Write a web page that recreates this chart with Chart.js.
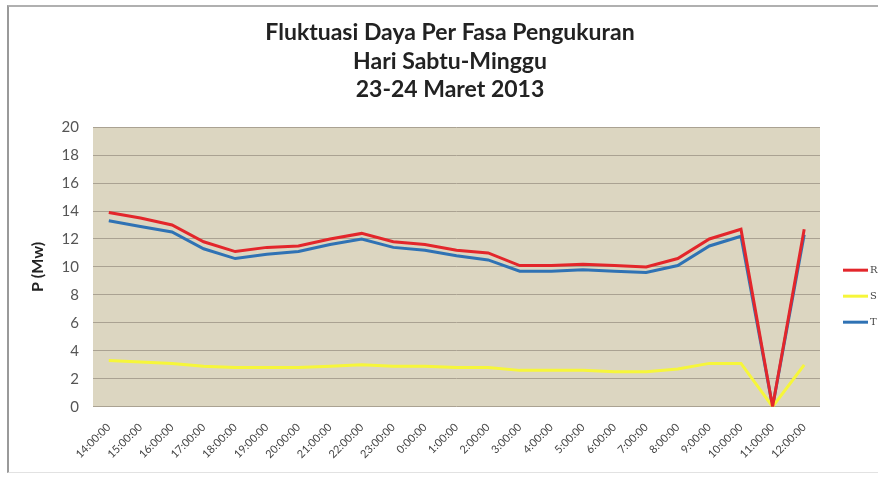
<!DOCTYPE html>
<html>
<head>
<meta charset="utf-8">
<script src="https://cdn.jsdelivr.net/npm/chart.js@4"></script>
<style>
  html, body { margin: 0; padding: 0; background: #ffffff; }
  #wrap {
    position: relative;
    width: 878px;
    height: 477px;
  }
  #frame {
    position: absolute;
    left: 7px;
    top: 5px;
    right: 0;
    bottom: 4px;
    border-left: 2px solid #9a9a9a;
    border-top: 2px solid #b0b0b0;
    border-bottom: 1px solid #e2e2e2;
  }
  canvas { position: absolute; left: 0; top: 0; }
</style>
</head>
<body>
<div id="wrap">
  <div id="frame"></div>
  <canvas id="myChart" width="878" height="477"></canvas>
</div>
<script>
// Data
let jam = [
  "14:00:00", "15:00:00", "16:00:00", "17:00:00", "18:00:00", "19:00:00",
  "20:00:00", "21:00:00", "22:00:00", "23:00:00", "0:00:00", "1:00:00",
  "2:00:00", "3:00:00", "4:00:00", "5:00:00", "6:00:00", "7:00:00",
  "8:00:00", "9:00:00", "10:00:00", "11:00:00", "12:00:00",
];
let fasaR = [13.9, 13.5, 13.0, 11.8, 11.1, 11.4, 11.5, 12.0, 12.4, 11.8, 11.6, 11.2,
  11.0, 10.1, 10.1, 10.2, 10.1, 10.0, 10.6, 12.0, 12.7, 0, 12.7];
let fasaS = [3.3, 3.2, 3.1, 2.9, 2.8, 2.8, 2.8, 2.9, 3.0, 2.9, 2.9, 2.8,
  2.8, 2.6, 2.6, 2.6, 2.5, 2.5, 2.7, 3.1, 3.1, 0, 3.0];
let fasaT = [13.3, 12.9, 12.5, 11.3, 10.6, 10.9, 11.1, 11.6, 12.0, 11.4, 11.2, 10.8,
  10.5, 9.7, 9.7, 9.8, 9.7, 9.6, 10.1, 11.5, 12.2, 0, 12.3];
let yTicks = [0, 2, 4, 6, 8, 10, 12, 14, 16, 18, 20];

// Plot background
const plotBackground = {
  id: "plotBackground",
  beforeDraw(chart) {
    const { ctx, chartArea } = chart;
    ctx.save();
    ctx.fillStyle = "#dcd6c1";
    ctx.fillRect(chartArea.left, chartArea.top, chartArea.width, chartArea.height);
    ctx.restore();
  },
};

// Legend drawn next to the plot, like the Excel one
const sideLegend = {
  id: "sideLegend",
  afterDraw(chart) {
    const { ctx, chartArea } = chart;
    ctx.save();
    ctx.font = "10px 'DejaVu Serif'";
    ctx.textBaseline = "middle";
    chart.data.datasets.forEach((ds, i) => {
      const x = chartArea.right + 23;
      const y = chartArea.top + 143 + i * 26;
      ctx.strokeStyle = ds.borderColor;
      ctx.lineWidth = 3;
      ctx.beginPath();
      ctx.moveTo(x, y);
      ctx.lineTo(x + 25, y);
      ctx.stroke();
      ctx.fillStyle = "#444444";
      ctx.fillText(ds.label, x + 27, y);
    });
    ctx.restore();
  },
};

function dataset(label, values, color) {
  return {
    label,
    data: values,
    borderColor: color,
    backgroundColor: color,
    borderWidth: 3,
    pointRadius: 0,
    tension: 0,
    fill: false,
  };
}

let myChart = new Chart(document.getElementById("myChart"), {
  type: "line",
  data: {
    labels: jam,
    datasets: [
      dataset("R", fasaR, "#e3262b"),
      dataset("S", fasaS, "#f6f63a"),
      dataset("T", fasaT, "#2f72b4"),
    ],
  },
  plugins: [plotBackground, sideLegend],
  options: {
    responsive: false,
    animation: false,
    layout: {
      padding: { left: 28, right: 6, top: 19, bottom: 10 },
    },
    plugins: {
      title: {
        display: true,
        text: ["Fluktuasi Daya Per Fasa Pengukuran", "Hari Sabtu-Minggu", "23-24 Maret 2013"],
        font: { family: "Lato", size: 23, weight: "bold", lineHeight: 1.22 },
        color: "#222222",
        padding: { top: 0, bottom: 24 },
      },
      legend: { display: false },
      tooltip: { enabled: false },
    },
    scales: {
      x: {
        offset: true,
        grid: { display: false },
        border: { display: false },
        ticks: {
          minRotation: 45,
          maxRotation: 45,
          autoSkip: false,
          color: "#444444",
          padding: 6,
          font: { family: "Lato", size: 11 },
        },
      },
      y: {
        min: 0,
        max: 20,
        afterBuildTicks(axis) {
          axis.ticks = yTicks.map((v) => ({ value: v }));
        },
        afterFit(axis) {
          axis.width = 65;
        },
        title: {
          display: true,
          text: "P (Mw)",
          color: "#222222",
          font: { family: "Lato", size: 16, weight: "bold" },
          padding: 0,
        },
        grid: { color: "#aaa292", lineWidth: 1, drawTicks: false },
        border: { display: false },
        ticks: {
          color: "#555555",
          padding: 14,
          font: { family: "Lato", size: 15 },
        },
      },
      // empty right-hand box that leaves room for the legend
      legendSpace: {
        position: "right",
        min: 0,
        max: 20,
        grid: { display: false },
        border: { display: false },
        ticks: { display: false },
        afterFit(axis) {
          axis.width = 52;
        },
      },
    },
  },
});
</script>
</body>
</html>
